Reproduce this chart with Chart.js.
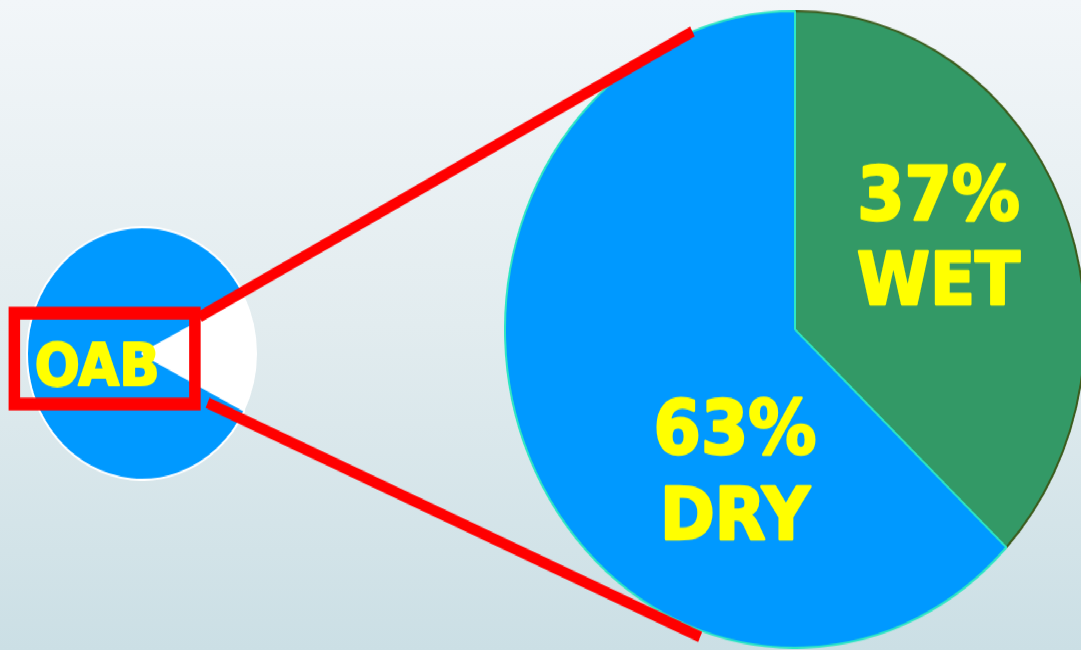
<!DOCTYPE html>
<html>
<head>
<meta charset="utf-8">
<script src="https://cdn.jsdelivr.net/npm/chart.js@4.4.1/dist/chart.umd.min.js"></script>
<style>
  html, body { margin: 0; padding: 0; overflow: hidden; }
  #frame {
    position: relative;
    width: 1081px;
    height: 650px;
    overflow: hidden;
    background: linear-gradient(#f2f6f9, #e2ecef 50%, #cbdfe5);
  }
  /* the whole slide is a bit taller than wide, so stretch it */
  #stage {
    position: absolute;
    left: 0; top: 0;
    width: 1081px;
    height: 592px;
    transform: scaleY(1.098);
    transform-origin: 0 0;
  }
  .pie { position: absolute; }
  #overlay { position: absolute; left: 0; top: 0; pointer-events: none; }
</style>
</head>
<body>
<div id="frame">
  <div id="stage">
    <canvas class="pie" id="smallPie" width="232" height="232" style="left:26px;top:206px"></canvas>
    <canvas class="pie" id="bigPie" width="582" height="582" style="left:504px;top:9px"></canvas>
    <canvas id="overlay" width="1081" height="592"></canvas>
  </div>
</div>
<script>
// small pie: the highlighted wedge and the rest
const smallLabels = ["zoom", "OAB"];
const smallValues = [15, 85];
const smallTitle = "OAB";

// big pie: OAB split
const bigLabels = ["WET", "DRY"];
const bigValues = [37, 63];

const YELLOW = "#ffff00";
const RED = "#ff0000";
const FONT = "'DejaVu Sans', Verdana, sans-serif";

// label placement inside the big pie, as fractions of the radius
const labelPos = [
  { x: 0.495, y1: -0.345, y2: -0.08 },
  { x: -0.207, y1: 0.39, y2: 0.66 }
];

// heavy text: fill plus a thin stroke in the same colour
function boldText(ctx, txt, x, y) {
  ctx.fillText(txt, x, y);
  ctx.strokeText(txt, x, y);
}

const bigLabelPlugin = {
  id: "bigLabels",
  afterDatasetsDraw(chart) {
    const ctx = chart.ctx;
    const arcs = chart.getDatasetMeta(0).data;
    ctx.save();
    ctx.fillStyle = YELLOW;
    ctx.strokeStyle = YELLOW;
    ctx.lineWidth = 2.4;
    ctx.lineJoin = "round";
    ctx.textAlign = "center";
    ctx.textBaseline = "alphabetic";
    arcs.forEach((arc, i) => {
      const r = arc.outerRadius;
      const p = labelPos[i];
      ctx.font = "bold 68px " + FONT;
      boldText(ctx, bigValues[i] + "%", arc.x + p.x * r, arc.y + p.y1 * r);
      ctx.font = "bold 66px " + FONT;
      boldText(ctx, bigLabels[i], arc.x + p.x * r, arc.y + p.y2 * r);
    });
    ctx.restore();
  }
};

const smallChart = new Chart(document.getElementById("smallPie"), {
  type: "pie",
  data: {
    labels: smallLabels,
    datasets: [{
      data: smallValues,
      backgroundColor: ["#ffffff", "#0099ff"],
      borderColor: ["#ffffff", "#ffffff"],
      borderWidth: [0, 2]
    }]
  },
  options: {
    responsive: false,
    animation: false,
    rotation: 63,
    plugins: { legend: { display: false }, tooltip: { enabled: false } }
  }
});

const bigChart = new Chart(document.getElementById("bigPie"), {
  type: "pie",
  data: {
    labels: bigLabels,
    datasets: [{
      data: bigValues,
      backgroundColor: ["#339966", "#0099ff"],
      borderColor: ["#3d5c1e", "#2ee6c4"],
      borderWidth: 2
    }]
  },
  options: {
    responsive: false,
    animation: false,
    plugins: { legend: { display: false }, tooltip: { enabled: false } }
  },
  plugins: [bigLabelPlugin]
});

function drawCallout() {
  const ctx = document.getElementById("overlay").getContext("2d");
  const sCan = document.getElementById("smallPie");
  const bCan = document.getElementById("bigPie");
  const sArc = smallChart.getDatasetMeta(0).data[0];
  const bArc = bigChart.getDatasetMeta(0).data[0];

  const sx = sCan.offsetLeft + sArc.x, sy = sCan.offsetTop + sArc.y, s = sArc.outerRadius;
  const bx = bCan.offsetLeft + bArc.x, by = bCan.offsetTop + bArc.y, R = bArc.outerRadius;

  // title on the small pie
  ctx.fillStyle = YELLOW;
  ctx.strokeStyle = YELLOW;
  ctx.lineWidth = 2;
  ctx.lineJoin = "round";
  ctx.font = "bold 53px " + FONT;
  ctx.textAlign = "center";
  boldText(ctx, smallTitle, sx - 0.39 * s, sy + 0.25 * s);

  ctx.strokeStyle = RED;
  ctx.lineCap = "butt";
  ctx.lineJoin = "miter";

  // box round the title
  ctx.lineWidth = 11.5;
  ctx.strokeRect(sx - 1.11 * s, sy - 0.32 * s, 1.57 * s, 0.72 * s);

  // two lines out to the big pie
  const onBig = (deg, k) => {
    const a = deg * Math.PI / 180;
    return [bx + k * R * Math.sin(a), by - k * R * Math.cos(a)];
  };
  const top = onBig(339.3, 1.0);
  const bot = onBig(198.7, 1.02);
  ctx.lineWidth = 10;
  ctx.beginPath();
  ctx.moveTo(sx + 0.5 * s, sy - 0.29 * s);
  ctx.lineTo(top[0], top[1]);
  ctx.moveTo(sx + 0.57 * s, sy + 0.39 * s);
  ctx.lineTo(bot[0], bot[1]);
  ctx.stroke();
}

drawCallout();
</script>
</body>
</html>
